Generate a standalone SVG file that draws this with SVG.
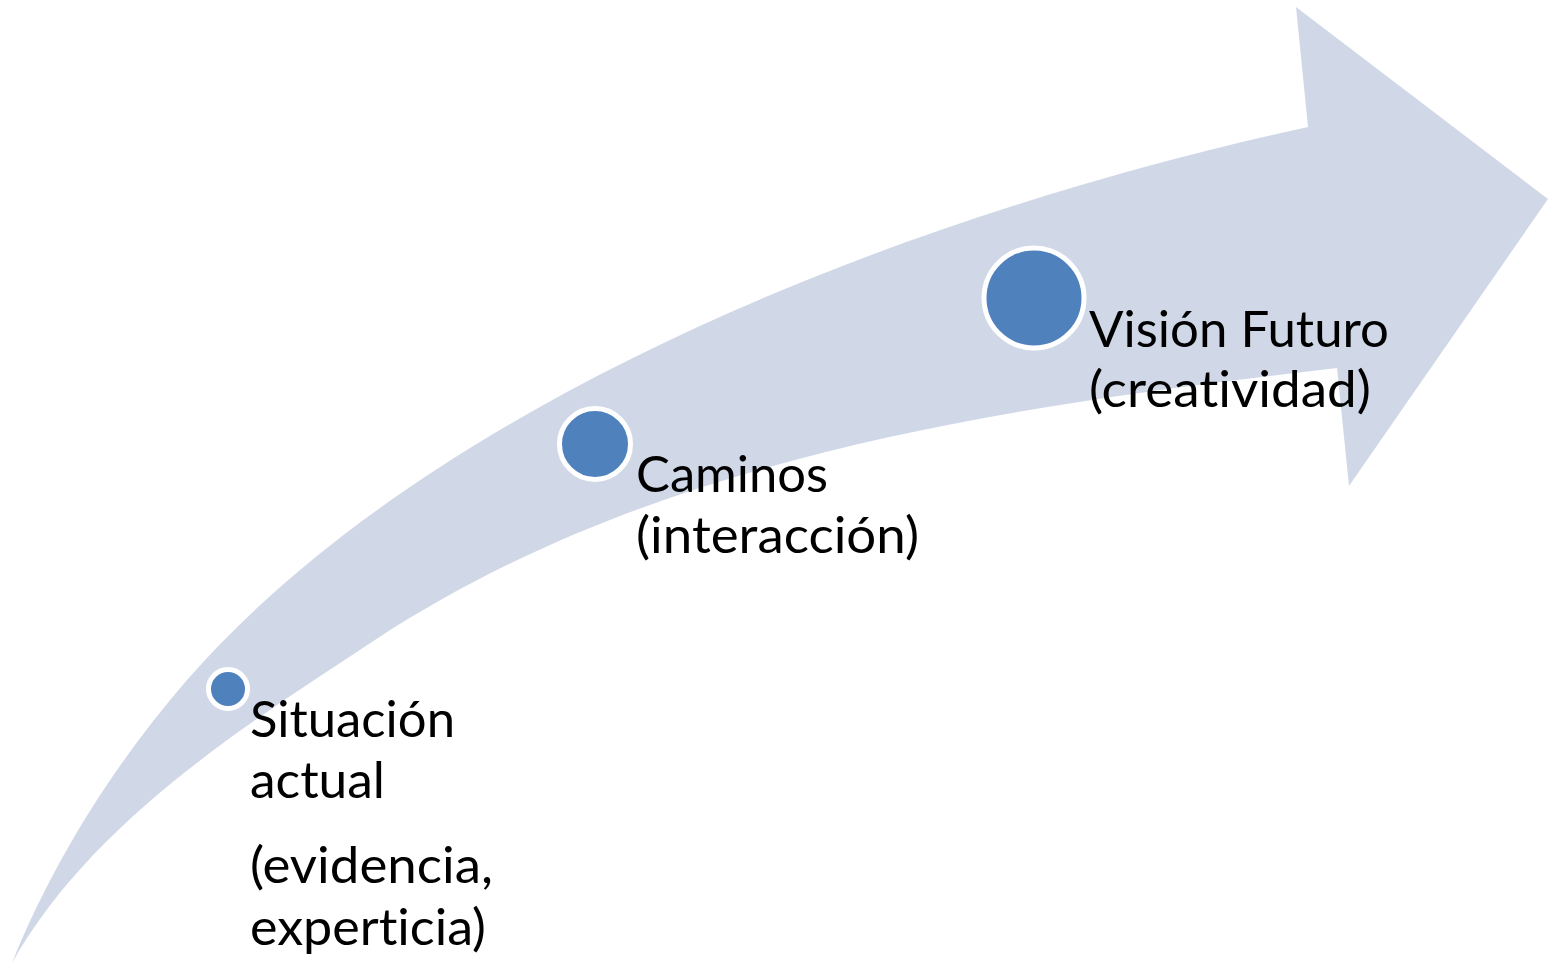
<svg xmlns="http://www.w3.org/2000/svg" width="1552" height="966" viewBox="0 0 1552 966">
<style>
.band{fill:#D0D8E8;stroke:none}
.dot{fill:#4F81BD;stroke:#FFFFFF;stroke-width:5}
.lbl{font-family:Lato,"Open Sans","Liberation Sans",sans-serif;font-size:50px;fill:#000000;font-variant-ligatures:none;font-feature-settings:"liga" 0,"clig" 0}
</style>
<rect width="1552" height="966" fill="#FFFFFF"/>
<g id="connectors">
<path id="arrow" class="band" d="M12,963 C53,861 115,763 187,680 C417,416 868,223 1308,127 L1296,7 L1548,199 L1349,486 L1337,368 C989,408 651,459 375,640 C241,728 91,823 12,963 Z"/>
</g>
<g id="node-situacion">
<circle class="dot" cx="228" cy="689" r="19.5"/>
<text class="lbl" x="250" y="737" textLength="205" lengthAdjust="spacingAndGlyphs">Situación</text>
<text class="lbl" x="250" y="798" textLength="135" lengthAdjust="spacingAndGlyphs">actual</text>
<text class="lbl" x="250" y="883" textLength="243" lengthAdjust="spacingAndGlyphs">(evidencia,</text>
<text class="lbl" x="250" y="945" textLength="236" lengthAdjust="spacingAndGlyphs">experticia)</text>
</g>
<g id="node-caminos">
<circle class="dot" cx="595" cy="444" r="35.5"/>
<text class="lbl" x="636" y="492" textLength="192" lengthAdjust="spacingAndGlyphs">Caminos</text>
<text class="lbl" x="636" y="553" textLength="283" lengthAdjust="spacingAndGlyphs">(interacción)</text>
</g>
<g id="node-vision">
<circle class="dot" cx="1034" cy="298" r="50"/>
<text class="lbl" x="1089" y="347" textLength="300" lengthAdjust="spacingAndGlyphs">Visión Futuro</text>
<text class="lbl" x="1089" y="407" textLength="282" lengthAdjust="spacingAndGlyphs">(creatividad)</text>
</g>
</svg>
